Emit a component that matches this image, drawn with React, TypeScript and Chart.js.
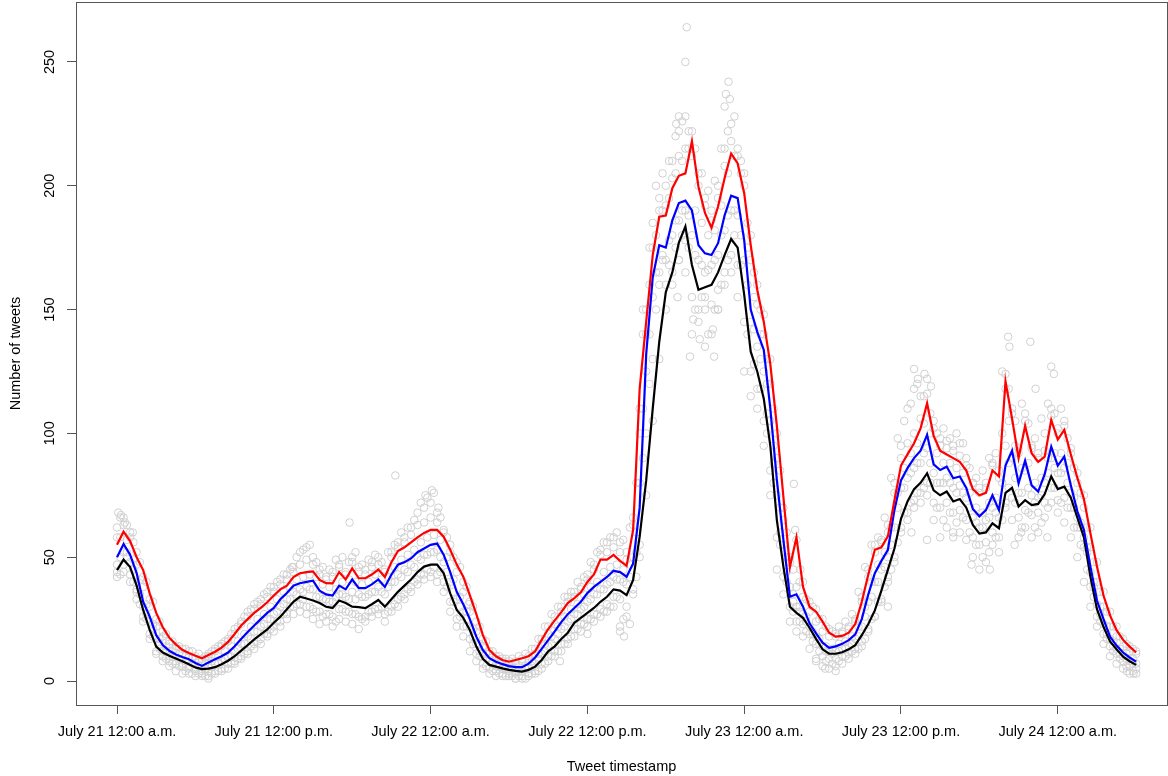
import React, { useEffect, useRef } from 'react';
import { Chart, registerables } from 'chart.js';

Chart.register(...registerables);

// Hours since July 21 12:00 a.m.
const hours = [
  0, 0.5, 1, 1.5, 2, 2.5, 3, 3.5, 4, 4.5, 5, 5.5, 6, 6.5, 7, 7.5, 8, 8.5, 9, 9.5,
  10, 10.5, 11, 11.5, 12, 12.5, 13, 13.5, 14, 14.5, 15, 15.5, 16, 16.5, 17, 17.5, 18, 18.5, 19, 19.5,
  20, 20.5, 21, 21.5, 22, 22.5, 23, 23.5, 24, 24.5, 25, 25.5, 26, 26.5, 27, 27.5, 28, 28.5, 29, 29.5,
  30, 30.5, 31, 31.5, 32, 32.5, 33, 33.5, 34, 34.5, 35, 35.5, 36, 36.5, 37, 37.5, 38, 38.5, 39, 39.5,
  40, 40.5, 41, 41.5, 42, 42.5, 43, 43.5, 44, 44.5, 45, 45.5, 46, 46.5, 47, 47.5, 48, 48.5, 49, 49.5,
  50, 50.5, 51, 51.5, 52, 52.5, 53, 53.5, 54, 54.5, 55, 55.5, 56, 56.5, 57, 57.5, 58, 58.5, 59, 59.5,
  60, 60.5, 61, 61.5, 62, 62.5, 63, 63.5, 64, 64.5, 65, 65.5, 66, 66.5, 67, 67.5, 68, 68.5, 69, 69.5,
  70, 70.5, 71, 71.5, 72, 72.5, 73, 73.5, 74, 74.5, 75, 75.5, 76, 76.5, 77, 77.5, 78
];

const midHours = [
  0.25, 0.75, 1.25, 1.75, 2.25, 2.75, 3.25, 3.75, 4.25, 4.75, 5.25, 5.75, 6.25, 6.75, 7.25, 7.75, 8.25, 8.75, 9.25, 9.75,
  10.25, 10.75, 11.25, 11.75, 12.25, 12.75, 13.25, 13.75, 14.25, 14.75, 15.25, 15.75, 16.25, 16.75, 17.25, 17.75, 18.25, 18.75, 19.25, 19.75,
  20.25, 20.75, 21.25, 21.75, 22.25, 22.75, 23.25, 23.75, 24.25, 24.75, 25.25, 25.75, 26.25, 26.75, 27.25, 27.75, 28.25, 28.75, 29.25, 29.75,
  30.25, 30.75, 31.25, 31.75, 32.25, 32.75, 33.25, 33.75, 34.25, 34.75, 35.25, 35.75, 36.25, 36.75, 37.25, 37.75, 38.25, 38.75, 39.25, 39.75,
  40.25, 40.75, 41.25, 41.75, 42.25, 42.75, 43.25, 43.75, 44.25, 44.75, 45.25, 45.75, 46.25, 46.75, 47.25, 47.75, 48.25, 48.75, 49.25, 49.75,
  50.25, 50.75, 51.25, 51.75, 52.25, 52.75, 53.25, 53.75, 54.25, 54.75, 55.25, 55.75, 56.25, 56.75, 57.25, 57.75, 58.25, 58.75, 59.25, 59.75,
  60.25, 60.75, 61.25, 61.75, 62.25, 62.75, 63.25, 63.75, 64.25, 64.75, 65.25, 65.75, 66.25, 66.75, 67.25, 67.75, 68.25, 68.75, 69.25, 69.75,
  70.25, 70.75, 71.25, 71.75, 72.25, 72.75, 73.25, 73.75, 74.25, 74.75, 75.25, 75.75, 76.25, 76.75, 77.25, 77.75
];

const xTickHours = [0, 12, 24, 36, 48, 60, 72];
const xTickLabels = [
  'July 21 12:00 a.m.', 'July 21 12:00 p.m.', 'July 22 12:00 a.m.', 'July 22 12:00 p.m.',
  'July 23 12:00 a.m.', 'July 23 12:00 p.m.', 'July 24 12:00 a.m.'
];
const yTicks = [0, 50, 100, 150, 200, 250];

const blueLine = [
  50, 55.3, 51, 43.6, 32, 26, 18.5, 14.5, 12.2, 10.7,
  9.7, 8.8, 7.3, 6.1, 7.5, 8.8, 10, 11.5, 14, 17,
  19.8, 22.4, 25, 27.5, 29.5, 33, 35.5, 38.5, 39.5, 40,
  40.5, 36.5, 35, 34.5, 38.5, 37, 41, 37.5, 37.5, 39,
  41, 38, 43, 47, 48, 49.5, 52, 53.5, 55, 55.5,
  51, 44, 36, 31, 25, 17.9, 12.5, 9.2, 7.8, 6.8,
  6, 5.6, 5.6, 7, 9.5, 13, 16.5, 20, 23.8, 27,
  29.5, 32, 35.5, 38, 40, 42, 44.5, 44, 42.1, 47.5,
  70, 132, 163, 176, 175, 186, 193, 194, 190, 176,
  172.7, 172, 176.8, 188, 196, 195, 178, 150, 141, 133.7,
  110, 81.2, 57, 34, 35, 30, 23.3, 19.2, 15.5, 13.4,
  14, 15, 16.5, 18.8, 25, 35, 43.5, 48.5, 53, 69.1,
  81, 86, 90, 93, 99.4, 87.5, 85.2, 86.5, 81.9, 82.6,
  78, 69.5, 66.5, 69, 75, 69, 87, 93, 79.8, 89,
  79, 76.5, 83.5, 94.6, 87, 90.6, 79, 68.5, 61, 46.2,
  32.5, 25, 17.9, 14.3, 11.5, 9.5, 7.8
];

const redLine = [
  55, 60.3, 56.5, 50, 44.8, 35.4, 27.5, 21.7, 17.5, 14.8,
  12.6, 11.3, 10.2, 9.2, 10.5, 11.8, 13.5, 15.8, 19, 22.4,
  25, 27.5, 29.5, 31.8, 34.5, 37, 38.5, 42, 43.5, 44,
  44.3, 40.8, 39.5, 39.4, 44, 41, 45.5, 41.5, 41.5, 43,
  45, 42, 48, 52.5, 54, 56, 58, 59.8, 61, 61,
  58.3, 53, 47, 42.1, 34.7, 27, 18.5, 12.5, 10, 8.5,
  7.8, 8.5, 9.2, 10, 12, 16.6, 21, 24.5, 27.8, 31.5,
  33.5, 35.8, 40, 43, 49, 49, 50.9, 48.5, 46.5, 61,
  118, 145, 172, 187.5, 188, 199, 204, 205, 218, 199.6,
  189, 183, 191.6, 203, 213, 209, 197, 176, 158, 145,
  128, 103, 74.4, 46, 58, 38.1, 30, 28, 24, 19.5,
  17.9, 18.2, 19.5, 23, 32, 43, 53, 54, 58.5, 73,
  87, 91.5, 96, 102, 112.2, 99, 93, 91.5, 90, 88.5,
  85, 77.5, 75, 76, 85, 82.6, 121, 106, 90, 103,
  92, 88.5, 90.6, 105.4, 97.5, 101.4, 91.5, 82, 73.5, 59.6,
  46.2, 34.5, 26.5, 20.5, 16.6, 13.9, 11.5
];

const blackLine = [
  44.8, 49, 46, 38.5, 28.7, 20.6, 13.9, 11.5, 10.2, 9.1,
  8, 6.8, 5.5, 4.8, 5, 5.6, 6.8, 8.2, 10, 12.3,
  14.5, 16.8, 18.8, 20.8, 23.5, 26, 29, 32, 34, 33.3,
  32.5, 31.5, 30, 29.5, 32.5, 31.5, 30, 29.8, 29.4, 31,
  32.7, 30, 33, 36, 38.5, 41, 44, 46.2, 47, 47,
  43.5, 35.4, 28.7, 25.5, 20.6, 13.9, 9, 6.5, 5.8, 5.1,
  4.5, 4.1, 3.8, 4.5, 5.8, 8.5, 12, 14, 17, 19.5,
  23.5, 25.5, 27.5, 29.5, 32, 34, 37, 36.5, 34.7, 40.8,
  58.3, 81, 110, 137, 157, 165, 177, 183.5, 168, 158,
  159, 160, 165, 172, 178.5, 175, 156, 133, 125, 114,
  95, 65, 46.2, 30, 27.5, 25.5, 21.5, 17, 12.8, 11,
  11, 11.6, 12.8, 14.5, 18.5, 23, 28.5, 36.5, 45, 53.5,
  65.5, 72.5, 77.5, 80, 83.9, 77, 75, 76.5, 72.5, 73.5,
  70, 63, 59.5, 60, 63.7, 61.7, 76, 78, 70.5, 73,
  71, 71.5, 75.5, 82.6, 77.5, 78.5, 74, 66, 58, 42.1,
  29, 21.9, 16, 12.8, 9.8, 8, 6.5
];

// Grey observed counts (open circles), read as bands around the lines
const cloudA = [
  47, 52, 48, 37, 30, 24, 17, 12, 10, 8,
  7, 6, 5, 4, 6, 7, 8, 10, 12, 15,
  18, 20, 22, 25, 27, 30, 33, 36, 37, 38,
  37, 34, 33, 32, 35, 34, 36, 35, 34, 36,
  38, 35, 40, 43, 45, 47, 50, 51, 52, 53,
  48, 40, 33, 28, 22, 15, 11, 8, 6, 5,
  4, 4, 4, 5, 7, 11, 14, 17, 21, 24,
  27, 29, 32, 35, 37, 39, 42, 41, 39, 50,
  80, 125, 155, 165, 170, 180, 186, 190, 180, 170,
  165, 168, 172, 182, 190, 188, 170, 145, 135, 125,
  105, 75, 55, 38, 30, 27, 22, 18, 14, 12,
  12, 13, 14, 17, 22, 32, 40, 45, 50, 62,
  78, 82, 86, 88, 94, 84, 80, 82, 78, 79,
  74, 66, 62, 65, 70, 66, 95, 90, 76, 85,
  75, 74, 80, 90, 84, 86, 76, 66, 58, 44,
  31, 23, 17, 13, 10, 8, 7
];

const cloudB = [
  62, 66, 58, 47, 38, 30, 22, 18, 16, 14,
  13, 12, 10, 9, 11, 13, 15, 17, 21, 24,
  28, 31, 33, 36, 38, 41, 43, 46, 52, 54,
  50, 45, 42, 44, 47, 44, 50, 46, 45, 48,
  50, 45, 52, 56, 58, 62, 68, 70, 72, 68,
  60, 52, 44, 36, 28, 20, 14, 11, 10, 9,
  8, 8, 9, 10, 13, 17, 22, 26, 30, 34,
  36, 38, 43, 47, 53, 56, 58, 56, 52, 66,
  110, 150, 185, 195, 200, 210, 222, 228, 212, 200,
  195, 190, 200, 215, 225, 215, 200, 170, 152, 140,
  120, 90, 65, 48, 38, 34, 28, 24, 20, 18,
  18, 20, 22, 25, 32, 42, 52, 57, 63, 80,
  95, 110, 118, 115, 122, 105, 98, 97, 95, 96,
  90, 80, 78, 80, 88, 82, 118, 110, 92, 108,
  95, 92, 100, 110, 102, 105, 92, 80, 70, 54,
  40, 30, 22, 18, 14, 12, 11
];

const cloudC = [
  58, 57, 49, 41, 31, 23, 17, 14, 12, 11,
  10, 9, 8, 7, 8, 10, 12, 14, 16, 19,
  22, 25, 27, 30, 33, 36, 38, 41, 42, 43,
  42, 39, 38, 37, 40, 41, 40, 39, 40, 43,
  41, 42, 46, 49, 51, 53, 56, 58, 59, 57,
  50, 41, 34, 28, 21, 15, 11, 8, 7, 6,
  6, 6, 6, 8, 11, 15, 18, 22, 26, 29,
  31, 35, 38, 40, 44, 46, 47, 45, 47, 60,
  140, 160, 180, 190, 195, 205, 210, 215, 190, 185,
  180, 182, 192, 205, 212, 205, 175, 155, 140, 120,
  95, 70, 50, 35, 30, 26, 20, 17, 14, 13,
  15, 16, 18, 22, 30, 40, 47, 52, 62, 76,
  86, 92, 96, 104, 100, 92, 88, 88, 86, 84,
  76, 70, 68, 72, 74, 100, 105, 95, 86, 88,
  80, 82, 90, 92, 92, 88, 74, 64, 54, 40,
  30, 22, 16, 13, 11, 9
];

const cloudD = [
  43, 50, 40, 31, 25, 18, 13, 9, 7, 6,
  4, 3, 3, 2, 3, 4, 5, 7, 9, 11,
  14, 16, 19, 21, 24, 27, 30, 31, 33, 30,
  28, 26, 27, 24, 29, 28, 27, 25, 28, 29,
  30, 28, 31, 34, 37, 40, 43, 45, 46, 44,
  38, 32, 26, 22, 15, 10, 6, 4, 3, 2,
  2, 2, 1, 3, 4, 7, 10, 12, 15, 18,
  21, 23, 25, 27, 28, 30, 34, 25, 23, 42,
  90, 120, 150, 170, 168, 175, 180, 175, 150, 155,
  140, 150, 160, 170, 180, 168, 140, 128, 118, 100,
  80, 55, 40, 28, 24, 20, 16, 12, 8, 7,
  8, 10, 12, 13, 17, 25, 32, 38, 45, 56,
  68, 72, 76, 78, 80, 70, 65, 68, 64, 66,
  60, 55, 50, 52, 58, 65, 78, 72, 62, 68,
  62, 64, 70, 78, 72, 70, 62, 55, 45, 34,
  24, 17, 12, 9, 6, 4
];

const cloudE = [
  66, 63, 56, 48, 40, 32, 24, 19, 16, 14,
  13, 12, 11, 10, 12, 14, 16, 19, 22, 26,
  29, 32, 35, 38, 40, 43, 45, 50, 53, 55,
  48, 46, 45, 49, 50, 48, 52, 47, 49, 51,
  48, 52, 55, 60, 62, 65, 72, 74, 76, 66,
  58, 50, 46, 38, 30, 22, 16, 12, 10, 9,
  9, 10, 11, 13, 17, 22, 27, 30, 34, 36,
  40, 42, 48, 52, 56, 58, 60, 57, 62, 80,
  150, 175, 200, 205, 210, 220, 226, 222, 215, 205,
  198, 202, 215, 222, 228, 210, 185, 165, 150, 130,
  110, 85, 60, 45, 40, 33, 30, 25, 22, 20,
  22, 24, 27, 36, 46, 55, 58, 66, 82, 98,
  105, 112, 120, 115, 108, 100, 102, 98, 100, 96,
  86, 82, 85, 90, 92, 125, 118, 105, 112, 104,
  98, 106, 112, 108, 110, 98, 86, 76, 62, 48,
  36, 28, 22, 18, 15, 13
];

const cloudF = [
  42, 44, 40, 33, 24, 17, 11, 8, 6, 4,
  3, 3, 2, 2, 2, 3, 4, 5, 7, 9,
  11, 13, 15, 18, 20, 22, 25, 27, 28, 27,
  25, 23, 24, 22, 25, 24, 23, 21, 24, 26,
  27, 24, 28, 30, 33, 36, 39, 41, 42, 40,
  36, 28, 22, 18, 12, 8, 5, 3, 2, 2,
  2, 1, 1, 2, 3, 5, 8, 10, 12, 15,
  18, 20, 22, 24, 26, 28, 30, 20, 26, 35,
  50, 100, 130, 160, 160, 165, 170, 165, 140, 145,
  135, 140, 150, 160, 165, 155, 125, 115, 110, 95,
  75, 45, 35, 24, 20, 18, 13, 9, 6, 5,
  6, 7, 9, 11, 14, 20, 26, 32, 40, 48,
  60, 65, 70, 72, 75, 65, 58, 62, 58, 60,
  57, 50, 45, 48, 55, 52, 70, 65, 58, 62,
  58, 60, 66, 72, 68, 64, 58, 50, 40, 30,
  22, 15, 10, 7, 5, 3, 3
];

const cloudG = [
  50, 52, 45, 35, 27, 21, 15, 12, 10, 9,
  8, 7, 6, 5, 6, 7, 9, 10, 13, 15,
  17, 20, 23, 25, 28, 31, 33, 35, 36, 37,
  34, 33, 32, 34, 35, 33, 33, 34, 35, 36,
  36, 38, 40, 42, 44, 46, 49, 51, 52, 50,
  44, 36, 30, 25, 18, 12, 9, 7, 6, 5,
  5, 4, 5, 6, 9, 12, 15, 19, 22, 25,
  27, 30, 33, 35, 37, 40, 41, 40, 42, 52,
  110, 140, 165, 172, 178, 186, 190, 188, 172, 168,
  166, 170, 180, 188, 190, 180, 160, 142, 130, 108,
  88, 60, 44, 32, 28, 24, 19, 15, 12, 11,
  12, 13, 15, 18, 26, 34, 40, 46, 55, 70,
  78, 84, 88, 92, 88, 80, 80, 80, 76, 76,
  70, 64, 62, 66, 68, 80, 88, 82, 76, 78,
  72, 75, 84, 86, 84, 80, 70, 62, 52, 38,
  27, 19, 14, 11, 9, 7
];

const cloudI = [
  58, 63, 60, 52, 42, 33, 25, 20, 15, 13,
  11, 10, 9, 8, 10, 12, 14, 16, 19, 23,
  26, 29, 31, 34, 36, 39, 41, 44, 47, 49,
  47, 43, 41, 42, 46, 43, 48, 44, 43, 46,
  47, 44, 50, 54, 56, 59, 63, 64, 66, 64,
  61, 55, 48, 40, 32, 24, 17, 12, 9, 8,
  7, 7, 8, 9, 11, 15, 19, 23, 28, 32,
  34, 37, 41, 45, 51, 52, 54, 52, 49, 63,
  100, 140, 175, 190, 192, 203, 212, 215, 222, 205,
  192, 186, 195, 208, 218, 212, 205, 180, 160, 148,
  130, 100, 70, 50, 57, 40, 32, 29, 25, 21,
  19, 19, 21, 24, 34, 45, 55, 56, 60, 76,
  90, 96, 100, 106, 116, 102, 95, 94, 93, 91,
  87, 80, 76, 78, 87, 85, 124, 108, 94, 105,
  94, 90, 93, 107, 100, 103, 94, 84, 75, 62,
  48, 36, 28, 22, 17, 14, 12
];

const cloudJ = [
  44, 47, 43, 36, 26, 19, 12, 10, 8, 7,
  6, 5, 4, 3, 4, 4, 5, 7, 8, 10,
  12, 15, 17, 19, 22, 24, 27, 30, 31, 30,
  29, 28, 27, 26, 29, 28, 27, 26, 26, 28,
  29, 27, 30, 33, 35, 38, 41, 43, 44, 43,
  40, 32, 25, 22, 17, 11, 7, 5, 4, 3,
  3, 3, 2, 3, 4, 7, 10, 12, 15, 17,
  21, 23, 25, 27, 29, 31, 34, 33, 30, 37,
  55, 75, 105, 130, 150, 160, 170, 178, 155, 150,
  150, 152, 158, 165, 172, 168, 145, 125, 118, 105,
  85, 58, 42, 30, 24, 23, 19, 15, 10, 9,
  9, 10, 11, 13, 16, 21, 26, 33, 42, 50,
  62, 68, 73, 76, 80, 72, 70, 72, 68, 69,
  65, 58, 55, 56, 60, 58, 72, 74, 66, 69,
  67, 68, 72, 78, 73, 74, 70, 62, 54, 38,
  26, 19, 14, 11, 8, 6, 5
];

const outlierHours = [
  0.1, 0.3, 0.6, 1.2, 17.8, 21.3, 23.6, 24.1, 24.6, 43.6,
  43.5, 46.8, 46.6, 46.9, 46.5, 43.0, 42.8, 43.85, 45.7, 44.1,
  45.6, 44.6, 42.9, 51.8, 51.9, 52.3, 61.0, 61.3, 61.8, 62.3,
  68.2, 68.3, 69.9, 71.5, 71.7, 70.3, 62.0, 64.0, 65.4, 66.8,
  68.7, 69.2, 71.2, 46.0, 45.0, 36.0, 38.5, 38.8, 60.8, 59.0,
  53.5, 54.2, 55.0, 7.0, 30.5, 77.8, 77.3, 26.9, 13.4, 33.9
];
const outlierValues = [
  68, 67, 64, 60, 64, 83, 75, 77, 70, 264,
  250, 242, 237, 235, 232, 228, 225, 131, 131, 146,
  142, 138, 155, 79.6, 61, 45, 126, 122, 124, 119,
  139, 135, 137, 127, 124, 118, 57, 60, 47, 45,
  55, 60, 58, 150, 155, 19, 22, 18, 60, 30,
  8, 5, 4, 1, 1, 3, 4, 31, 46, 8
];

const FONT = "'Liberation Sans', Arial, Helvetica, sans-serif";
const AXIS_COLOR = '#555555';
const POINT_COLOR = '#d0d0d0';

const toXY = (xs: number[], ys: number[]) => ys.map((y, i) => ({ x: xs[i], y }));

const boxAndYLabels = {
  id: 'boxAndYLabels',
  afterDraw(chart: any) {
    const { ctx, chartArea } = chart;
    const y = chart.scales.y;
    ctx.save();
    ctx.strokeStyle = AXIS_COLOR;
    ctx.lineWidth = 1;
    ctx.strokeRect(chartArea.left + 0.5, chartArea.top + 0.5, chartArea.right - chartArea.left, chartArea.bottom - chartArea.top);
    ctx.fillStyle = '#000';
    ctx.font = `14.5px ${FONT}`;
    ctx.textAlign = 'center';
    ctx.textBaseline = 'middle';
    yTicks.forEach((v) => {
      const py = y.getPixelForValue(v);
      ctx.save();
      ctx.translate(50, py);
      ctx.rotate(-Math.PI / 2);
      ctx.fillText(String(v), 0, 0);
      ctx.restore();
    });
    ctx.restore();
  },
};

export default function App() {
  const ref = useRef<HTMLCanvasElement | null>(null);

  useEffect(() => {
    document.body.style.margin = '0';
    if (!ref.current) return;
    const cloudStyle = {
      showLine: false,
      pointRadius: 3.8,
      pointBorderWidth: 1,
      pointBorderColor: POINT_COLOR,
      pointBackgroundColor: 'rgba(0,0,0,0)',
      pointStyle: 'circle',
    };
    const lineStyle = (color: string, order: number) => ({
      showLine: true,
      borderColor: color,
      backgroundColor: color,
      borderWidth: 2.2,
      pointRadius: 0,
      tension: 0,
      order,
    });
    const clouds: [number[], number[]][] = [
      [hours, cloudA], [hours, cloudB], [midHours, cloudC], [midHours, cloudD],
      [midHours, cloudE], [hours, cloudF], [midHours, cloudG], [hours, cloudI],
      [hours, cloudJ], [outlierHours, outlierValues],
    ];
    const chart = new Chart(ref.current, {
      type: 'scatter',
      data: {
        datasets: [
          { label: 'upper', data: toXY(hours, redLine), ...lineStyle('#ff0000', 0) },
          { label: 'mean', data: toXY(hours, blueLine), ...lineStyle('#0000ff', 1) },
          { label: 'lower', data: toXY(hours, blackLine), ...lineStyle('#000000', 2) },
          ...clouds.map(([xs, ys], i) => ({ label: 'obs' + i, data: toXY(xs, ys), ...cloudStyle, order: 3 + i })),
        ] as any,
      },
      options: {
        animation: false,
        responsive: false,
        events: [],
        layout: { autoPadding: false, padding: { top: 2, right: 1, left: 0, bottom: 0 } },
        plugins: { legend: { display: false }, tooltip: { enabled: false } },
        scales: {
          x: {
            type: 'linear',
            min: -3.14,
            max: 80.36,
            afterBuildTicks: (s: any) => {
              s.ticks = xTickHours.map((v) => ({ value: v }));
            },
            afterFit: (s: any) => {
              s.height = 71;
            },
            ticks: {
              autoSkip: false,
              maxRotation: 0,
              minRotation: 0,
              padding: 9,
              color: '#000',
              font: { family: FONT, size: 14.5 },
              callback: (v: any) => {
                const i = xTickHours.indexOf(Number(v));
                return i >= 0 ? xTickLabels[i] : '';
              },
            },
            grid: { drawOnChartArea: false, drawTicks: true, tickLength: 9, color: AXIS_COLOR, lineWidth: 1 },
            border: { display: false },
            title: {
              display: true,
              text: 'Tweet timestamp',
              color: '#000',
              font: { family: FONT, size: 14.5 },
              padding: { top: 0, bottom: 0 },
            },
          },
          y: {
            type: 'linear',
            min: -9.69,
            max: 274.2,
            afterBuildTicks: (s: any) => {
              s.ticks = yTicks.map((v) => ({ value: v }));
            },
            afterFit: (s: any) => {
              s.width = 76;
            },
            ticks: { display: false },
            grid: { drawOnChartArea: false, drawTicks: true, tickLength: 9, color: AXIS_COLOR, lineWidth: 1 },
            border: { display: false },
            title: {
              display: true,
              text: 'Number of tweets',
              color: '#000',
              font: { family: FONT, size: 14.5 },
              padding: { top: 7, bottom: 0 },
            },
          },
        },
      } as any,
      plugins: [boxAndYLabels],
    });
    return () => chart.destroy();
  }, []);

  return (
    <div style={{ width: 1168, height: 776 }}>
      <canvas ref={ref} width={1168} height={776} style={{ display: 'block' }} />
    </div>
  );
}
